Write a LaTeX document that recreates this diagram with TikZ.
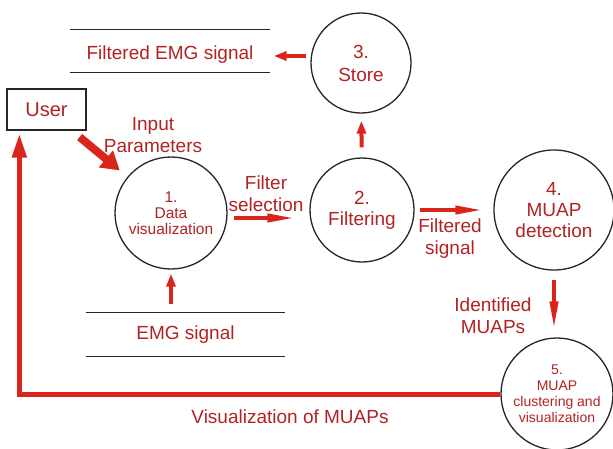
\documentclass[tikz,border=0pt]{standalone}
\usepackage{fontspec}
\setmainfont{Liberation Sans}
\usetikzlibrary{arrows.meta}
\definecolor{txtred}{RGB}{178,34,34}
\definecolor{arrred}{RGB}{218,37,29}

\begin{document}
\begin{tikzpicture}[x=1pt,y=-1pt,
    proc/.style={draw=black!85,line width=1.3pt,circle,inner sep=0pt,align=center,text=txtred,font=\fontsize{19}{21}\selectfont},
    lbl/.style={text=txtred,align=center,font=\fontsize{19}{22}\selectfont},
    store/.style={draw=black!85,line width=1.3pt},
    arr/.style={arrred,line width=4pt,-{Triangle[length=13pt,width=9pt]}},
    arrlong/.style={arrred,line width=4pt,-{Triangle[length=28pt,width=8pt]}}]
    \useasboundingbox (0,0) rectangle (613,448);
    % processes
    \node[proc,minimum size=112pt,font=\fontsize{15.5}{16}\selectfont] (c1) at (171,213) {1.\\Data\\visualization};
    \node[proc,minimum size=104pt] (c2) at (362,210) {2.\\Filtering};
    \node[proc,minimum size=100pt,font=\fontsize{19}{23}\selectfont] (c3) at (361,63) {3.\\Store};
    \node[proc,minimum size=120pt] (c4) at (554,210) {4.\\MUAP\\detection};
    \node[proc,minimum size=112pt,font=\fontsize{14}{16}\selectfont] (c5) at (557,394) {5.\\MUAP\\clustering and\\visualization};
    % user and data stores
    \node[draw=black!85,line width=1.3pt,minimum width=79pt,minimum height=41pt,lbl,font=\fontsize{20}{22}\selectfont] (user) at (46.5,109.5) {User};
    \node[lbl,minimum width=199pt,minimum height=42pt,inner xsep=0pt,text height=20pt] (fes) at (170,51) {Filtered EMG signal};
    \draw[store] (fes.north west) -- (fes.north east) (fes.south west) -- (fes.south east);
    \node[lbl,minimum width=199pt,minimum height=43pt,inner xsep=0pt] (emg) at (185.5,334.5) {EMG signal};
    \draw[store] (emg.north west) -- (emg.north east) (emg.south west) -- (emg.south east);
    % flows
    \draw[arrred,line width=8pt,-{Triangle[length=18pt,width=21pt]},shorten <=10pt,shorten >=10pt] (user) -- (c1);
    \node[lbl] (inp) at (153,135) {Input\\Parameters};
    \draw[arrlong,shorten <=6pt,shorten >=14pt] ([yshift=-5pt]c1.east) -- ([yshift=-5pt]c1.east -| c2.west);
    \node[lbl] (fsel) at (266,194) {Filter\\selection};
    \draw[arr,shorten <=9pt,shorten >=4pt] (emg.north -| c1.south) -- (c1.south);
    \draw[arr,shorten <=10pt,shorten >=7pt] (c2) -- (c3);
    \draw[arr,shorten <=4pt,shorten >=4pt] ([yshift=7pt]c3.west) -- ([yshift=7pt]c3.west -| fes.east);
    \draw[arrlong,shorten <=5pt,shorten >=10pt] (c2) -- (c4);
    \node[lbl] (fsig) at (450,239) {Filtered\\signal};
    \draw[arrlong,shorten <=9pt,shorten >=8pt] (c4.south -| 554,0) -- (c5.north -| 554,0);
    \node[lbl] (idm) at (493,316) {Identified\\MUAPs};
    \draw[arrred,line width=5pt,-{Triangle[length=24pt,width=14pt]},shorten >=3pt] (c5.west) -| ([xshift=13pt]user.south west);
    \node[lbl] (vis) at (290,417) {Visualization of MUAPs};
\end{tikzpicture}
\end{document}
